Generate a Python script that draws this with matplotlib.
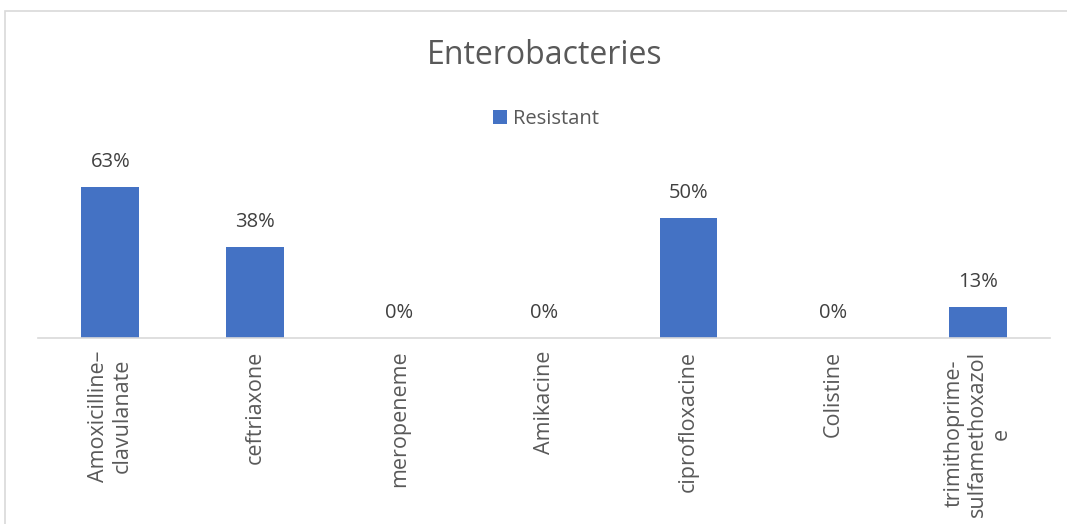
import matplotlib.pyplot as plt
from matplotlib.patches import Rectangle
import numpy as np

drugs = ["Amoxicilline–\nclavulanate", "ceftriaxone", "meropeneme", "Amikacine",
         "ciprofloxacine", "Colistine", "trimithoprime-\nsulfamethoxazol\ne"]
resistant = [63, 38, 0, 0, 50, 0, 13]  # percent

W, H = 1067, 524
fig = plt.figure(figsize=(W / 100, H / 100), dpi=100)
plt.rcParams['font.family'] = ['Open Sans', 'DejaVu Sans']

# chart frame (runs off the right/bottom edge like the screenshot)
fig.patches.append(Rectangle((5 / W, -0.1), 1.2, (H - 11) / H + 0.1, transform=fig.transFigure,
                             fill=False, edgecolor="#d9d9d9", linewidth=1.2))

# plot area in pixels: left 38, right 1050, baseline y=338, top = 0.7 at y=170
ax = fig.add_axes([38 / W, (H - 338) / H, (1050 - 38) / W, (338 - 170) / H])
x = np.arange(len(drugs))
vals = np.array(resistant) / 100
bars = ax.bar(x, vals, width=0.4, color="#4472c4", label="Resistant")
ax.set_xlim(-0.5, len(drugs) - 0.5)
ax.set_ylim(0, 0.7)

for xi, v in zip(x, resistant):
    ax.annotate(f"{v}%", (xi, v / 100), xytext=(0, 18), textcoords="offset points",
                ha="center", va="center", fontsize=14.5, color="#404040")

for s in ["top", "right", "left"]:
    ax.spines[s].set_visible(False)
ax.spines["bottom"].set_color("#d9d9d9")
ax.spines["bottom"].set_linewidth(1.2)
ax.set_yticks([])
ax.set_xticks(x)
ax.set_xticklabels(drugs, rotation=90, fontsize=15.5, color="#595959", va="top",
                   linespacing=1.15, multialignment="center")
ax.tick_params(axis="x", length=0, pad=9)

fig.text(545 / W, 1 - 55 / H, "Enterobacteries", ha="center", va="center",
         fontsize=23, color="#595959")
fig.legend(handles=[bars], labels=["Resistant"], loc="center", bbox_to_anchor=(546 / W, 1 - 119 / H),
           frameon=False, fontsize=14.5, handlelength=0.7, handleheight=0.7, handletextpad=0.3,
           labelcolor="#595959")

fig.savefig("out.png", dpi=100)
